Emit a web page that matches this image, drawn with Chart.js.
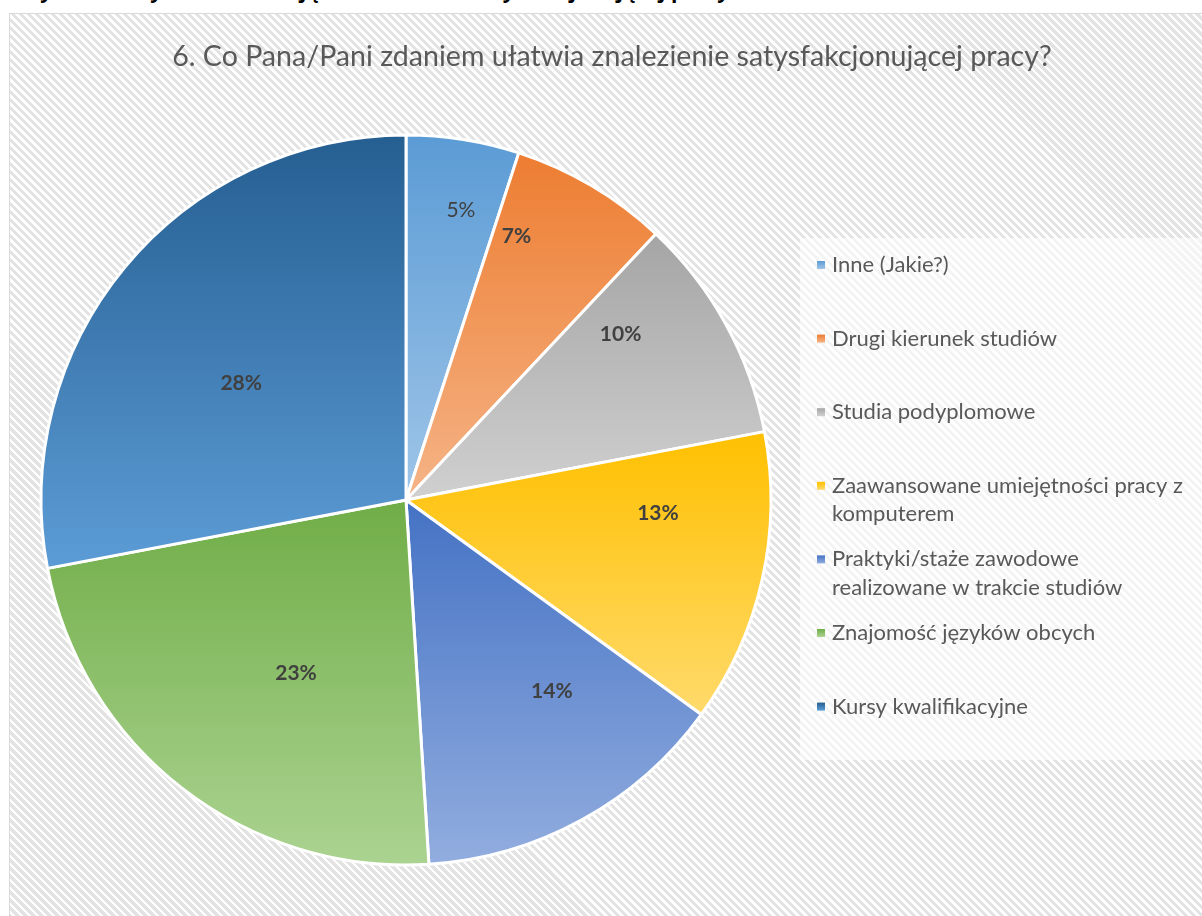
<!DOCTYPE html>
<html><head><meta charset="utf-8">
<script src="https://cdn.jsdelivr.net/npm/chart.js@4.4.1/dist/chart.umd.min.js"></script>
<style>
html,body{margin:0;padding:0;background:#fff;overflow:hidden;width:1202px;height:916px;}
#cap{position:absolute;left:20px;top:-20px;font:bold 21px "Open Sans",Lato,sans-serif;color:#000;white-space:nowrap;line-height:21px}
#frame{position:absolute;left:9px;top:13px;width:1200px;height:910px;border:1px solid #d9d9d9;box-sizing:border-box;
background:repeating-linear-gradient(45deg,#ffffff 0px,#ffffff 2.6px,#e3e3e3 2.6px,#e3e3e3 5.66px);}
#wrap{position:absolute;left:0;top:0;width:1193px;height:902px}
</style></head><body>
<div id="cap">Wykres 6. Czynniki ułatwiające znalezienie satysfakcjonującej pracy</div>
<div id="frame"><div id="wrap"><canvas id="c" width="1193" height="902"></canvas></div></div>
<script>
// ---- data ----
const chartTitle = "6. Co Pana/Pani zdaniem ułatwia znalezienie satysfakcjonującej pracy?";
const categories = [
  "Inne (Jakie?)",
  "Drugi kierunek studiów",
  "Studia podyplomowe",
  ["Zaawansowane umiejętności pracy z", "komputerem"],
  ["Praktyki/staże zawodowe", "realizowane w trakcie studiów"],
  "Znajomość języków obcych",
  "Kursy kwalifikacyjne"
];
const values = [5, 7, 10, 13, 14, 23, 28];

// ---- styles ----
const PALETTE = [
  ["#5b9bd5", "#9fc5e8"],
  ["#ed7d31", "#f5b487"],
  ["#a5a5a5", "#d0d0d0"],
  ["#ffc000", "#ffda6b"],
  ["#4472c4", "#92addf"],
  ["#70ad47", "#abd391"],
  ["#255e91", "#5c9cd6"]
];
const LABEL_BOLD = [false, true, true, true, true, true, true];
const BORDER = 3;
const FONT = 'Lato, "Open Sans", sans-serif';
const DEG = Math.PI / 180;

function sliceGeom(chart, i) {
  const ca = chart.chartArea;
  const data = chart.data.datasets[0].data;
  const total = data.reduce((a, b) => a + b, 0);
  let start = -Math.PI / 2;
  for (let k = 0; k < i; k++) start += data[k] / total * 2 * Math.PI;
  const end = start + data[i] / total * 2 * Math.PI;
  const cx = (ca.left + ca.right) / 2, cy = (ca.top + ca.bottom) / 2;
  const r = (Math.min(ca.width, ca.height) - BORDER) / 2;
  return {start, end, cx, cy, r};
}

function sliceGradient(ctx) {
  const chart = ctx.chart, i = ctx.dataIndex;
  const pal = PALETTE[i % PALETTE.length];
  if (!chart.chartArea) return pal[0];
  const {start, end, cy, r} = sliceGeom(chart, i);
  const ys = [cy, cy + r * Math.sin(start), cy + r * Math.sin(end)];
  for (const a of [-Math.PI / 2, Math.PI / 2, 3 * Math.PI / 2]) {
    if (a >= start - 1e-9 && a <= end + 1e-9) ys.push(cy + r * Math.sin(a));
  }
  const y0 = Math.min(...ys), y1 = Math.max(...ys);
  const g = chart.ctx.createLinearGradient(0, y0, 0, y1);
  g.addColorStop(0, pal[0]);
  g.addColorStop(1, pal[1]);
  return g;
}

const titlePlugin = {
  id: 'customTitle',
  afterDraw(chart) {
    const ctx = chart.ctx;
    ctx.save();
    let size = 26;
    ctx.font = size + 'px ' + FONT;
    const w = ctx.measureText(chartTitle).width;
    size = size * 880 / w;
    ctx.font = size + 'px ' + FONT;
    ctx.fillStyle = '#595959';
    ctx.textAlign = 'center';
    ctx.textBaseline = 'middle';
    ctx.fillText(chartTitle, 602, 43);
    ctx.restore();
  }
};

const labelPlugin = {
  id: 'sliceLabels',
  afterDatasetsDraw(chart) {
    const ctx = chart.ctx;
    const meta = chart.getDatasetMeta(0);
    ctx.save();
    ctx.fillStyle = '#404040';
    ctx.textAlign = 'center';
    ctx.textBaseline = 'middle';
    meta.data.forEach((arc, i) => {
      const p = arc.getProps(['x', 'y', 'startAngle', 'endAngle', 'outerRadius'], true);
      const v = chart.data.datasets[0].data[i];
      const width = p.endAngle - p.startAngle;
      const ang = width < 20 * DEG ? p.startAngle + 0.62 * width
                                   : (p.startAngle + p.endAngle) / 2 - 7 * DEG;
      const f = 0.83 - 0.0105 * v;
      const x = p.x + Math.cos(ang) * p.outerRadius * f;
      const y = p.y - 11 + Math.sin(ang) * p.outerRadius * f;
      ctx.font = (LABEL_BOLD[i] ? 'bold ' : '') + '21px ' + FONT;
      ctx.fillText(v + '%', x, y);
    });
    ctx.restore();
  }
};

const legendPlugin = {
  id: 'sideLegend',
  afterDraw(chart) {
    const ctx = chart.ctx;
    ctx.save();
    ctx.fillStyle = 'rgba(255,255,255,0.6)';
    ctx.fillRect(790, 224, 403, 522);
    const startY = 251, slot = 73.6, lineH = 28.5;
    ctx.font = '22px ' + FONT;
    ctx.textBaseline = 'middle';
    ctx.textAlign = 'left';
    chart.data.labels.forEach((lab, i) => {
      const lines = Array.isArray(lab) ? lab : [lab];
      const y = startY + i * slot;
      const pal = PALETTE[i % PALETTE.length];
      const g = ctx.createLinearGradient(0, y - 4, 0, y + 4);
      g.addColorStop(0, pal[0]); g.addColorStop(1, pal[1]);
      ctx.fillStyle = g;
      ctx.fillRect(807, y - 4, 8, 8);
      ctx.fillStyle = '#595959';
      lines.forEach((ln, j) => ctx.fillText(ln, 822, y + j * lineH));
    });
    ctx.restore();
  }
};

const W = 1193, H = 902;
const cxT = 396, cyT = 486, rT = 365;
const side = 2 * rT + BORDER;
const padL = cxT - side / 2, padT = cyT - side / 2;

new Chart(document.getElementById('c'), {
  type: 'pie',
  data: {
    labels: categories,
    datasets: [{
      data: values,
      backgroundColor: sliceGradient,
      borderColor: '#ffffff',
      borderWidth: BORDER
    }]
  },
  options: {
    responsive: false,
    animation: false,
    layout: {padding: {left: padL, top: padT, right: W - padL - side, bottom: H - padT - side}},
    plugins: {legend: {display: false}, title: {display: false}, tooltip: {enabled: false}}
  },
  plugins: [labelPlugin, legendPlugin, titlePlugin]
});
</script>
</body></html>
